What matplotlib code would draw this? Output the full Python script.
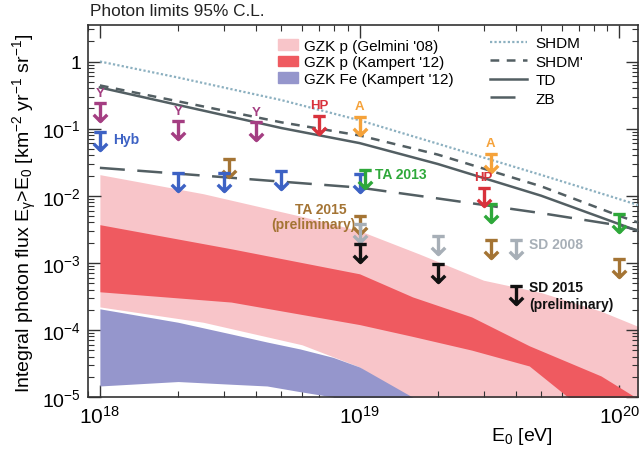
import numpy as np
import matplotlib
matplotlib.use('Agg')
import matplotlib.pyplot as plt
from matplotlib.path import Path
from matplotlib.patches import Patch
from matplotlib.lines import Line2D
from matplotlib.ticker import FuncFormatter, LogLocator

plt.rcParams['font.family'] = ['Liberation Sans', 'DejaVu Sans']
plt.rcParams['mathtext.default'] = 'regular'

##################################################################
# DATA
##################################################################
# model curves
model_E = [1e18, 2e18, 5e18, 1e19, 2e19, 5e19, 1e20, 1.2e20]
shdm = [1.0, 0.577, 0.266, 0.133, 0.0595, 0.0204, 0.0089, 0.0071]
shdm_prime = [0.44, 0.255, 0.124, 0.079, 0.041, 0.0138, 0.0050, 0.0039]
td = [0.41, 0.225, 0.102, 0.0608, 0.0297, 0.0100, 0.00377, 0.0029]
zb = [0.026, 0.0213, 0.0162, 0.0132, 0.0091, 0.0055, 0.0036, 0.0030]

# GZK p (Gelmini '08) band
gel_E = [1e18, 2.5e18, 6e18, 1e19, 1.7e19, 3e19, 5e19, 8.5e19, 1.2e20]
gel_hi = [0.0206, 0.0107, 0.0049, 0.0030, 0.00135, 5.5e-4, 3.6e-4, 1.9e-4, 1.1e-4]
gel_lo = [2.2e-4, 1.3e-4, 6.0e-5, 2.8e-5, 6.0e-6, 3e-6, 3e-6, 3e-6, 3e-6]

# GZK p (Kampert '12) band
kp_E = [1e18, 3.2e18, 1e19, 1.6e19, 2.7e19, 4.5e19, 8.5e19, 1.15e20, 1.2e20]
kp_hi = [3.7e-3, 1.62e-3, 6.85e-4, 3.1e-4, 1.56e-4, 5.8e-5, 2.06e-5, 1.0e-5, 9e-6]
kp_lo = [3.7e-4, 2.6e-4, 1.2e-4, 8.0e-5, 5.0e-5, 2.9e-5, 4e-6, 3e-6, 3e-6]

# GZK Fe (Kampert '12) band
fe_E = [1e18, 2e18, 3.2e18, 4.4e18, 5.9e18, 7.9e18, 1e19, 1.65e19, 2e19]
fe_hi = [2.06e-4, 1.3e-4, 8.7e-5, 6.6e-5, 5.2e-5, 3.9e-5, 2.8e-5, 9.3e-6, 5e-6]
fe_lo = [1.46e-5, 1.7e-5, 1.55e-5, 1.46e-5, 1.2e-5, 1.0e-5, 5e-6, 5e-6, 5e-6]

# upper limits
y_E = [1e18, 2e18, 4e18]
y_lim = [0.244, 0.13, 0.127]
hp_E = [7e18, 3e19]
hp_lim = [0.156, 0.0132]
a_E = [1e19, 3.2e19]
a_lim = [0.15, 0.042]
hyb_E = [1e18, 2e18, 3e18, 5e18, 1e19]
hyb_lim = [0.090, 0.022, 0.022, 0.0236, 0.0213]
ta13_E = [1.05e19, 3.2e19, 1e20]
ta13_lim = [0.0245, 0.0074, 0.0054]
ta15_E = [3.15e18, 1e19, 3.2e19, 1e20]
ta15_lim = [0.0356, 0.0050, 0.0022, 0.00115]
sd08_E = [1e19, 2e19, 4e19]
sd08_lim = [0.0038, 0.0025, 0.0022]
sd15_E = [1e19, 2e19, 4e19]
sd15_lim = [0.0019, 0.00097, 4.5e-4]

##################################################################
# COLOURS
##################################################################
c_gel = '#f8c5c9'
c_kp = '#ef5a60'
c_fe = '#9596cc'
c_dot = '#8cb0c0'
c_line = '#535f63'

##################################################################
# FIGURE
##################################################################
fig = plt.figure(figsize=(6.39, 4.52), dpi=100)
ax = fig.add_axes([88/639, 1-398/452, 550/639, 372/452])

ax.fill_between(gel_E, gel_lo, gel_hi, color=c_gel, lw=0, zorder=1)
ax.fill_between(kp_E, kp_lo, kp_hi, color=c_kp, lw=0, zorder=2)
ax.fill_between(fe_E, fe_lo, fe_hi, color=c_fe, lw=0, zorder=2)

ax.plot(model_E, shdm, ls=(0, (1, 1)), color=c_dot, lw=1.6, zorder=3)
ax.plot(model_E, shdm_prime, ls=(0, (3.5, 3)), color=c_line, lw=1.8, zorder=3)
ax.plot(model_E, td, ls='-', color=c_line, lw=1.8, zorder=3)
ax.plot(model_E, zb, ls=(0, (10, 5)), color=c_line, lw=1.8, zorder=3)

# upper limit marker: bar at the value, arrow pointing down
verts = [(-0.55, 0), (0.55, 0), (0, 0), (0, -1.6),
         (-0.6, -1.0), (0, -1.6), (0.6, -1.0)]
codes = [Path.MOVETO, Path.LINETO, Path.MOVETO, Path.LINETO,
         Path.MOVETO, Path.LINETO, Path.LINETO]
ul = Path(verts, codes)

def limits(E, v, col, letter=None, dy=8):
    ax.plot(E, v, ls='none', marker=ul, ms=26, mfc='none', mec=col,
            mew=2.4, zorder=5, clip_on=False)
    if letter:
        for e, val in zip(E, v):
            ax.annotate(letter, (e, val), xytext=(0, dy), textcoords='offset points',
                        ha='center', va='center', color=col, fontsize=9.5,
                        fontweight='bold', zorder=6)

limits(ta15_E, ta15_lim, '#a47434')
limits(sd08_E, sd08_lim, '#a7afb7')
limits(sd15_E, sd15_lim, '#111111')
limits(hyb_E, hyb_lim, '#3d62c4')
limits(ta13_E, ta13_lim, '#2ea83a')
limits(y_E, y_lim, '#a43e82', 'Y', 7)
limits(hp_E, hp_lim, '#d8323c', 'HP', 8)
limits(a_E, a_lim, '#f5a23a', 'A', 8)

kw = dict(fontsize=10, fontweight='bold', va='center')
ax.text(1.12e18, 0.071, 'Hyb', color='#3d62c4', ha='left', **kw)
ax.text(1.15e19, 0.0213, 'TA 2013', color='#2ea83a', ha='left', **kw)
ax.text(7.06e18, 0.0064, 'TA 2015', color='#a47434', ha='center', **kw)
ax.text(9.66e18, 0.0038, '(preliminary)', color='#a47434', ha='right', **kw)
ax.text(4.5e19, 0.00192, 'SD 2008', color='#a7afb7', ha='left', **kw)
ax.text(4.5e19, 4.4e-4, 'SD 2015', color='#111111', ha='left', **kw)
ax.text(4.5e19, 2.44e-4, '(preliminary)', color='#111111', ha='left', **kw)

##################################################################
# AXES
##################################################################
ax.set_xscale('log')
ax.set_yscale('log')
ax.set_xlim(9e17, 1.18e20)
ax.set_ylim(1e-5, 3.5)

def fmt(v, pos):
    e = int(round(np.log10(v)))
    return '1' if e == 0 else r'$10^{%d}$' % e

ax.yaxis.set_major_locator(LogLocator(base=10, numticks=12))
ax.yaxis.set_major_formatter(FuncFormatter(fmt))
ax.xaxis.set_major_formatter(FuncFormatter(fmt))
ax.tick_params(which='both', direction='in', top=True, right=True, color='#333333')
ax.tick_params(which='major', length=9, width=1)
ax.tick_params(which='minor', length=4.5, width=0.8)
ax.tick_params(axis='x', labelsize=15, pad=6)
ax.tick_params(axis='y', labelsize=14, pad=5)
for s in ax.spines.values():
    s.set_color('#333333')
    s.set_linewidth(1.2)

fig.text(90/639, 1-12/452, 'Photon limits 95% C.L.', fontsize=12.4,
         ha='left', va='center', color='#222222')
fig.text(25/639, 1-213/452, r'Integral photon flux E$_\gamma$>E$_0$ [km$^{-2}$ yr$^{-1}$ sr$^{-1}$]',
         rotation=90, ha='center', va='center', fontsize=14)
fig.text(522/639, 1-437/452, r'E$_0$ [eV]', ha='center', va='center', fontsize=14)

##################################################################
# LEGENDS
##################################################################
h1 = [Patch(color=c_gel), Patch(color=c_kp), Patch(color=c_fe)]
l1 = ["GZK p (Gelmini '08)", "GZK p (Kampert '12)", "GZK Fe (Kampert '12)"]
leg1 = ax.legend(h1, l1, loc='upper left', bbox_to_anchor=(0.335, 0.979),
                 frameon=False, fontsize=11, handlelength=1.3, handleheight=0.7,
                 handletextpad=0.4, labelspacing=0.15, borderaxespad=0)
ax.add_artist(leg1)
h2 = [Line2D([], [], ls=(0, (1, 1)), color=c_dot, lw=1.6),
      Line2D([], [], ls=(0, (3.5, 3)), color=c_line, lw=1.8),
      Line2D([], [], ls='-', color=c_line, lw=1.8),
      Line2D([], [], ls=(0, (10, 5)), color=c_line, lw=1.8)]
l2 = ['SHDM', "SHDM'", 'TD', 'ZB']
ax.legend(h2, l2, loc='upper left', bbox_to_anchor=(0.72, 0.987),
          frameon=False, fontsize=11, handlelength=2.4, handletextpad=0.55,
          labelspacing=0.3, borderaxespad=0)

fig.savefig('out.png', dpi=100)
